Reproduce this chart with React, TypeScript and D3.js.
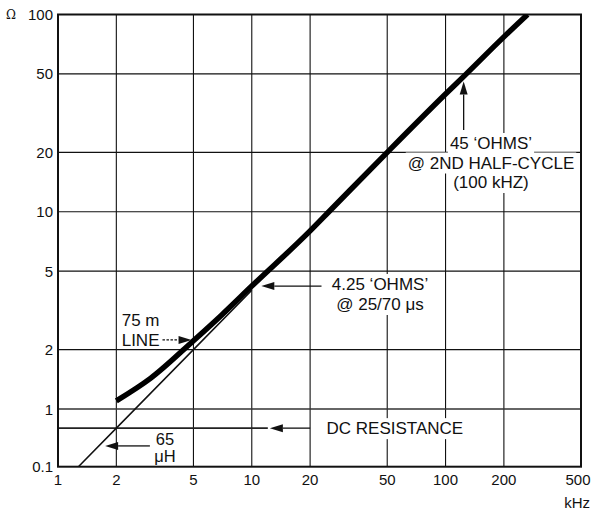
import React, { useEffect, useRef } from 'react';
import * as d3 from 'd3';

// frequency (kHz) vs impedance (Ω) of the 75 m line
const lineFreq = [2, 3, 5, 7, 10, 20, 25, 50, 100, 128, 200, 265];
const lineOhms = [1.1, 1.43, 2.22, 3.0, 4.2, 8.0, 10, 20, 39.5, 50, 77, 100];

// 65 µH inductance asymptote
const indFreq = [1.2, 2, 5, 10];
const indOhms = [0.48, 0.8, 2.0, 4.0];

const dcResistance = 0.8;

const xTicks = [1, 2, 5, 10, 20, 50, 100, 200, 500];
const xTickLabels = ['1', '2', '5', '10', '20', '50', '100', '200', '500'];
const yTicks = [0.51, 1, 2, 5, 10, 20, 50, 100];
const yTickLabels = ['0.1', '1', '2', '5', '10', '20', '50', '100'];

const W = 594;
const H = 513;
const FONT = '"Liberation Sans", Arial, Helvetica, sans-serif';

export default function App() {
  const svgRef = useRef<SVGSVGElement>(null);

  useEffect(() => {
    if (!svgRef.current) return;
    const svg = d3.select(svgRef.current);
    svg.selectAll('*').remove();

    const left = 58, right = 581, top = 14.5, bottom = 466.7;
    const x = d3.scaleLog().domain([1, 500]).range([left, right]);
    const y = d3.scaleLog().domain([0.51, 100]).range([bottom, top]);

    svg.append('rect').attr('width', W).attr('height', H).attr('fill', '#fff');

    const clip = svg.append('clipPath').attr('id', 'plot-clip');
    clip.append('rect').attr('x', left).attr('y', top).attr('width', right - left).attr('height', bottom - top);

    const g = svg.append('g');

    // grid
    xTicks.slice(1, -1).forEach(t => {
      g.append('line').attr('x1', x(t)).attr('x2', x(t)).attr('y1', top).attr('y2', bottom)
        .attr('stroke', '#111').attr('stroke-width', 1.1);
    });
    yTicks.slice(1, -1).forEach(t => {
      g.append('line').attr('x1', left).attr('x2', right).attr('y1', y(t)).attr('y2', y(t))
        .attr('stroke', t === 1 ? '#333' : '#111').attr('stroke-width', t === 1 ? 1.7 : 1.1);
    });

    // DC resistance line
    g.append('line').attr('x1', left).attr('x2', x(12.1)).attr('y1', y(dcResistance)).attr('y2', y(dcResistance))
      .attr('stroke', '#222').attr('stroke-width', 1.7);

    // frame
    g.append('rect').attr('x', left).attr('y', top).attr('width', right - left).attr('height', bottom - top)
      .attr('fill', 'none').attr('stroke', '#111').attr('stroke-width', 2);

    // tick labels
    yTicks.forEach((t, i) => {
      g.append('text').attr('x', 53).attr('y', y(t) + 5.5).attr('text-anchor', 'end')
        .attr('font-family', FONT).attr('font-size', 15).attr('fill', '#111').text(yTickLabels[i]);
    });
    xTicks.forEach((t, i) => {
      g.append('text').attr('x', x(t) + (i === xTicks.length - 1 ? -3 : 0)).attr('y', 485).attr('text-anchor', 'middle')
        .attr('font-family', FONT).attr('font-size', 15).attr('fill', '#111').text(xTickLabels[i]);
    });
    g.append('text').attr('x', 6).attr('y', 19).attr('font-family', '"DejaVu Serif", serif')
      .attr('font-size', 12).attr('fill', '#111').text('Ω');
    g.append('text').attr('x', 590).attr('y', 508).attr('text-anchor', 'end')
      .attr('font-family', FONT).attr('font-size', 15).attr('fill', '#111').text('kHz');

    const plot = g.append('g').attr('clip-path', 'url(#plot-clip)');

    // inductance asymptote
    const indPts = indFreq.map((f, i) => [f, indOhms[i]] as [number, number]);
    plot.append('path').datum(indPts)
      .attr('d', d3.line<[number, number]>().x(d => x(d[0])).y(d => y(d[1])))
      .attr('fill', 'none').attr('stroke', '#111').attr('stroke-width', 1.5);

    // 75 m line
    const linePts = lineFreq.map((f, i) => [f, lineOhms[i]] as [number, number]);
    plot.append('path').datum(linePts)
      .attr('d', d3.line<[number, number]>().x(d => x(d[0])).y(d => y(d[1])).curve(d3.curveMonotoneX))
      .attr('fill', 'none').attr('stroke', '#000').attr('stroke-width', 5.5);

    // annotations
    const ann = g.append('g');
    const arrow = (x1: number, y1: number, x2: number, y2: number, dashed = false) => {
      const len = Math.hypot(x2 - x1, y2 - y1);
      const ux = (x2 - x1) / len, uy = (y2 - y1) / len;
      const hl = 13, hw = 4;
      const bx = x2 - ux * hl, by = y2 - uy * hl;
      ann.append('line').attr('x1', x1).attr('y1', y1).attr('x2', bx).attr('y2', by)
        .attr('stroke', '#111').attr('stroke-width', 1.3)
        .attr('stroke-dasharray', dashed ? '2.5,1.5' : null);
      ann.append('path')
        .attr('d', `M${x2},${y2}L${bx - uy * hw},${by + ux * hw}L${bx + uy * hw},${by - ux * hw}Z`)
        .attr('fill', '#111');
    };
    const label = (lines: string[], cx: number, y0: number, dy: number, anchor = 'middle', bg = true, size = 17) => {
      lines.forEach((s, i) => {
        const t = ann.append('text').attr('x', cx).attr('y', y0 + i * dy).attr('text-anchor', anchor)
          .attr('font-family', FONT).attr('font-size', size).attr('fill', '#111').text(s);
        if (bg) {
          const b = (t.node() as SVGTextElement).getBBox();
          ann.insert('rect', () => t.node() as any)
            .attr('x', b.x - 2).attr('y', b.y - 1).attr('width', b.width + 4).attr('height', b.height + 2)
            .attr('fill', '#fff');
        }
      });
    };

    // 45 'OHMS' @ 2nd half-cycle
    arrow(x(124), y(26), x(124), y(45.7));
    label(["45 ‘OHMS’", '@ 2ND HALF-CYCLE', '(100 kHZ)'], 491, 149, 19.5);

    // 4.25 'OHMS'
    arrow(x(22.9), y(4.2), x(11.2), y(4.2));
    label(["4.25 ‘OHMS’", '@ 25/70 μs'], 380, 290, 20);

    // DC resistance
    arrow(x(20), y(dcResistance), x(12.4), y(dcResistance));
    label(['DC RESISTANCE'], x(24.3), y(dcResistance) + 6, 0, 'start');

    // 75 m LINE
    arrow(x(3.46), y(2.24), x(4.89), y(2.24), true);
    label(['75 m', 'LINE'], 121.7, 326, 19.7, 'start', false);

    // 65 µH
    arrow(x(2.98), y(0.65), x(1.75), y(0.65));
    label(['65', 'μH'], 165, 444.5, 17.5, 'middle', false, 16.5);
  }, []);

  return (
    <svg ref={svgRef} width={W} height={H}
      style={{ position: 'absolute', left: 0, top: 0, display: 'block' }} />
  );
}
